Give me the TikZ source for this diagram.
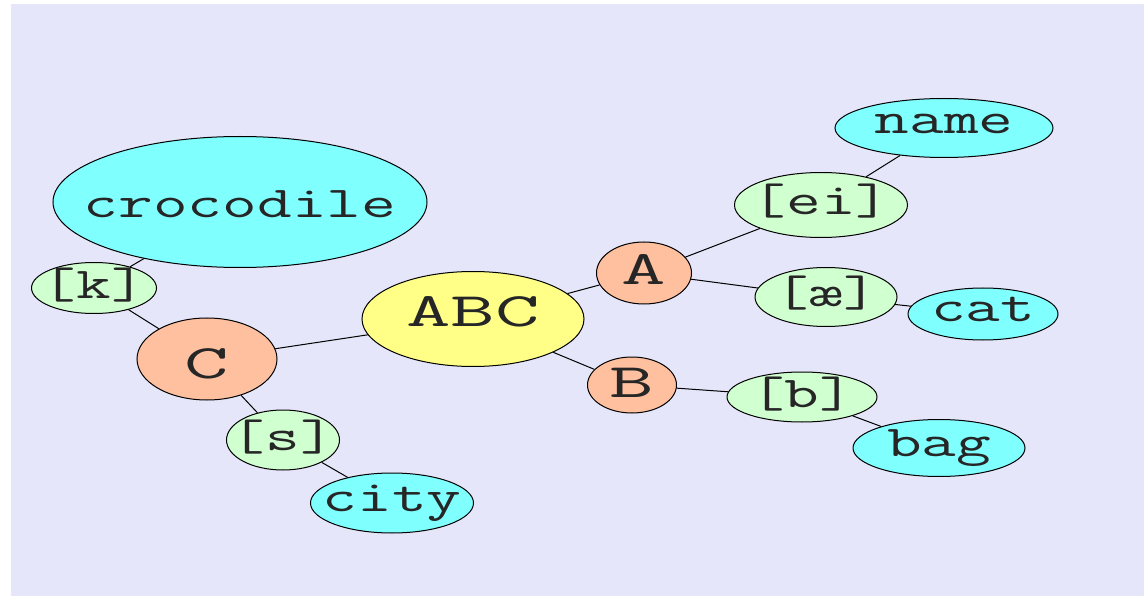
\documentclass[tikz,border=0pt]{standalone}
\usepackage{fontspec}
\usetikzlibrary{shapes.geometric}
\newfontfamily\smallmono[FakeStretch=1.53]{Latin Modern Mono}
\newfontfamily\bigmono[FakeStretch=1.8]{Latin Modern Mono}
\definecolor{bgcol}{RGB}{230,230,250}
\definecolor{wordcol}{RGB}{128,255,255}
\definecolor{soundcol}{RGB}{208,255,208}
\definecolor{lettercol}{RGB}{255,192,160}
\definecolor{rootcol}{RGB}{255,255,136}
% text that does not widen the ellipse
\newcommand{\lbl}[2][10pt]{\makebox[0pt]{\raisebox{-#1}[0pt][0pt]{#2}}}

\begin{document}
\begin{tikzpicture}[x=1pt,y=-1pt,
    bubble/.style={ellipse,draw,line width=1pt,inner sep=0pt,text=black!85},
    word/.style={bubble,fill=wordcol,font=\fontsize{44}{44}\smallmono},
    sound/.style={bubble,fill=soundcol,font=\fontsize{44}{44}\smallmono},
    letter/.style={bubble,fill=lettercol,font=\fontsize{48}{48}\bigmono},
    root/.style={bubble,fill=rootcol,font=\fontsize{48}{48}\bigmono}]
  \useasboundingbox (0,0) rectangle (1144,596);
  \fill[bgcol] (11,4) rectangle (1144,596);

  % centre
  \node[root,minimum width=222pt,minimum height=95pt] (abc) at (473,319) {\lbl[8pt]{ABC}};

  % letters
  \node[letter,minimum width=95pt,minimum height=62pt] (a) at (644,273) {\lbl[12pt]{A}};
  \node[letter,minimum width=89pt,minimum height=56pt] (b) at (632,385) {\lbl[12pt]{B}};
  \node[letter,minimum width=140pt,minimum height=82pt] (c) at (207,359) {\lbl[20pt]{C}};

  % sounds
  \node[sound,minimum width=173pt,minimum height=65pt] (ei) at (821,205) {\lbl{[ei]}};
  \node[sound,minimum width=142pt,minimum height=59pt] (ae) at (826,297) {\lbl{[æ]}};
  \node[sound,minimum width=150pt,minimum height=50pt] (bb) at (802,397) {\lbl{[b]}};
  \node[sound,minimum width=125pt,minimum height=51pt] (k) at (94,288) {\lbl{[k]}};
  \node[sound,minimum width=113pt,minimum height=60pt] (s) at (283,440) {\lbl{[s]}};

  % words
  \node[word,minimum width=218pt,minimum height=59pt] (name) at (944,128) {\lbl[6pt]{name}};
  \node[word,minimum width=150pt,minimum height=52pt] (cat) at (983,314) {\lbl[8pt]{cat}};
  \node[word,minimum width=172pt,minimum height=57pt] (bag) at (939,448) {\lbl[8pt]{bag}};
  \node[word,minimum width=374pt,minimum height=131pt] (croc) at (240,202) {\lbl[16pt]{crocodile}};
  \node[word,minimum width=163pt,minimum height=60pt] (city) at (392,503) {\lbl[8pt]{city}};

  \draw[line width=1pt] (abc) -- (a) (abc) -- (b) (abc) -- (c)
    (a) -- (ei) (a) -- (ae) (ei) -- (name) (ae) -- (cat)
    (b) -- (bb) (bb) -- (bag)
    (c) -- (k) (c) -- (s) (k) -- (croc) (s) -- (city);
\end{tikzpicture}
\end{document}
